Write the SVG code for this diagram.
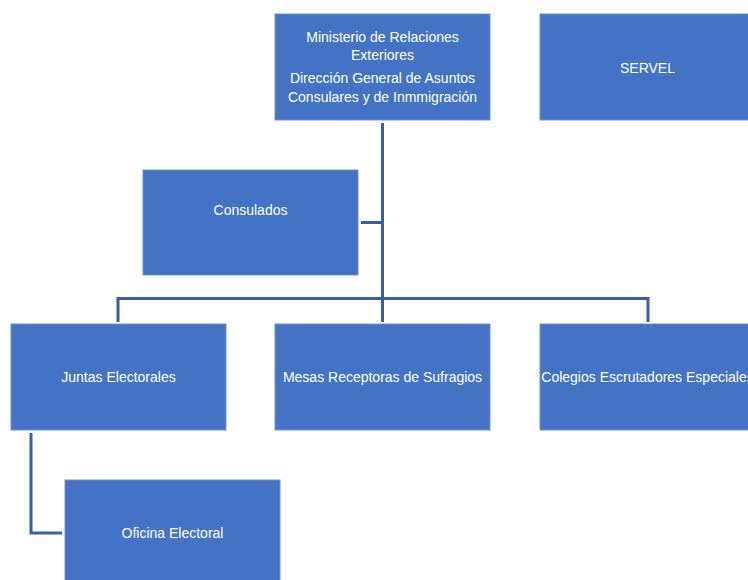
<svg xmlns="http://www.w3.org/2000/svg" width="748" height="580" viewBox="0 0 748 580">
<style>
.box{fill:#4472C4;stroke:#6E8FD0;stroke-width:1}
.t{fill:#FFFFFF;font-family:"Liberation Sans",Arial,sans-serif;font-size:14px;text-anchor:middle}
.c{stroke:#3A5DA6;stroke-width:3;fill:none}
</style>
<rect width="748" height="580" fill="#FFFFFF"/>
<g id="connectors">
<path class="c" d="M382.5,123 V322"/>
<path class="c" d="M361,222.5 H382.5"/>
<path class="c" d="M118,322 V298.5 H648 V322"/>
<path class="c" d="M31,433 V533 H62"/>
</g>
<g id="ministerio">
<rect class="box" x="275" y="14" width="215" height="106"/>
<text class="t" x="382.5" y="42">Ministerio de Relaciones</text>
<text class="t" x="382.5" y="60">Exteriores</text>
<text class="t" x="382.5" y="83">Dirección General de Asuntos</text>
<text class="t" x="382.5" y="102">Consulares y de Inmmigración</text>
</g>
<g id="servel">
<rect class="box" x="540" y="14" width="215" height="106"/>
<text class="t" x="647.5" y="73">SERVEL</text>
</g>
<g id="consulados">
<rect class="box" x="143" y="170" width="215" height="105"/>
<text class="t" x="250.5" y="215">Consulados</text>
</g>
<g id="juntas">
<rect class="box" x="11" y="324" width="215" height="106"/>
<text class="t" x="118.5" y="382">Juntas Electorales</text>
</g>
<g id="mesas">
<rect class="box" x="275" y="324" width="215" height="106"/>
<text class="t" x="382.5" y="382">Mesas Receptoras de Sufragios</text>
</g>
<g id="colegios">
<rect class="box" x="540" y="324" width="215" height="106"/>
<text class="t" x="647.5" y="382">Colegios Escrutadores Especiales</text>
</g>
<g id="oficina">
<rect class="box" x="65" y="480" width="215" height="106"/>
<text class="t" x="172.5" y="538">Oficina Electoral</text>
</g>
</svg>
